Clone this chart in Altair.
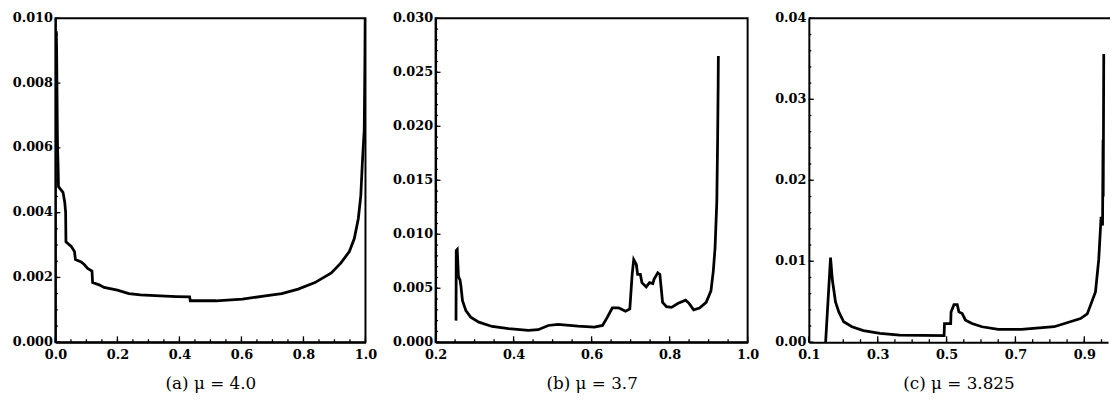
import altair as alt
import pandas as pd

# ---------------- data ----------------
a_x = [0.003, 0.004, 0.005, 0.006, 0.007, 0.0085, 0.010, 0.0245, 0.030, 0.033, 0.034, 0.051,
       0.0615, 0.0647, 0.083, 0.093, 0.104, 0.118, 0.120, 0.141, 0.157, 0.200, 0.237,
       0.274, 0.338, 0.390, 0.433, 0.435, 0.518, 0.603, 0.677, 0.730, 0.783, 0.837,
       0.890, 0.921, 0.948, 0.964, 0.977, 0.985, 0.990, 0.996, 0.998, 0.999]
a_y = [0.0096, 0.0090, 0.0080, 0.0068, 0.0060, 0.0055, 0.0048, 0.00463, 0.00433, 0.00402, 0.0031,
       0.00296, 0.0028, 0.00255, 0.00248, 0.0024, 0.00228, 0.0022, 0.00184, 0.00177,
       0.00169, 0.00161, 0.0015, 0.00146, 0.00143, 0.00141, 0.0014, 0.00128, 0.00128,
       0.00133, 0.00143, 0.0015, 0.00164, 0.00184, 0.00214, 0.00245, 0.0028, 0.0032,
       0.00382, 0.00453, 0.00555, 0.00656, 0.0085, 0.0100]

b_x = [0.2524, 0.2530, 0.2555, 0.2585, 0.2605, 0.2625, 0.2650, 0.269, 0.2777, 0.290,
       0.311, 0.345, 0.387, 0.438, 0.463, 0.489, 0.514, 0.565, 0.607, 0.628, 0.6405,
       0.653, 0.670, 0.687, 0.698, 0.704, 0.708, 0.7147, 0.718, 0.725, 0.729, 0.740,
       0.7486, 0.757, 0.760, 0.7696, 0.775, 0.782, 0.792, 0.805, 0.822, 0.841, 0.850,
       0.8616, 0.8767, 0.8937, 0.906, 0.912, 0.9165, 0.921, 0.9232, 0.9245, 0.925]
b_y = [0.0020, 0.0085, 0.0086, 0.0062, 0.0059, 0.0058, 0.0052, 0.00384, 0.00293, 0.00232,
       0.00186, 0.00146, 0.00125, 0.0011, 0.00116, 0.00155, 0.00165, 0.00149, 0.0014,
       0.00155, 0.00232, 0.00317, 0.00317, 0.00287, 0.00308, 0.00628, 0.00765, 0.0072,
       0.00628, 0.00628, 0.00552, 0.00512, 0.00552, 0.00543, 0.00583, 0.00643, 0.00628,
       0.00369, 0.00329, 0.00323, 0.0036, 0.0039, 0.0036, 0.0030, 0.00317, 0.00369,
       0.00476, 0.00659, 0.00872, 0.0130, 0.0191, 0.0240, 0.0265]

c_x = [0.1487, 0.163, 0.168, 0.1774, 0.187, 0.2012, 0.2253, 0.2586, 0.3065, 0.3638,
       0.4306, 0.4928, 0.4940, 0.512, 0.513, 0.5215, 0.531, 0.5358, 0.5454, 0.555,
       0.574, 0.6027, 0.6505, 0.717, 0.8127, 0.889, 0.9086, 0.9325, 0.942, 0.9488,
       0.9530, 0.9545, 0.9550, 0.9565]
c_y = [0.0, 0.01044, 0.0078, 0.00496, 0.00374, 0.00252, 0.00191, 0.00143, 0.0011, 0.00089,
       0.00085, 0.00082, 0.00231, 0.00231, 0.00374, 0.00463, 0.00463, 0.00374, 0.00353,
       0.00272, 0.00231, 0.00191, 0.00158, 0.00158, 0.00191, 0.00292, 0.0035, 0.0062,
       0.01023, 0.0155, 0.0144, 0.0250, 0.0180, 0.0356]

a_xticks = [0.0, 0.2, 0.4, 0.6, 0.8, 1.0]
a_yticks = [0.000, 0.002, 0.004, 0.006, 0.008, 0.010]
b_xticks = [0.2, 0.4, 0.6, 0.8, 1.0]
b_yticks = [0.000, 0.005, 0.010, 0.015, 0.020, 0.025, 0.030]
c_xticks = [0.1, 0.3, 0.5, 0.7, 0.9]
c_yticks = [0.00, 0.01, 0.02, 0.03, 0.04]

titles = ["(a) μ = 4.0", "(b) μ = 3.7", "(c) μ = 3.825"]

H = 328
FONT = "DejaVu Serif"


def minor(lo, hi, step):
    n = int(round((hi - lo) / step))
    return [round(lo + k * step, 6) for k in range(n + 1)]


def panel(xs, ys, xdom, ydom, xt, xfmt, xmin, yt, yfmt, ymin, title, W, full_box=True):
    df = pd.DataFrame({"x": xs, "y": ys, "i": list(range(len(xs)))})
    xs_ = alt.Scale(domain=xdom, nice=False, zero=False)
    ys_ = alt.Scale(domain=ydom, nice=False, zero=False)
    xaxis = alt.Axis(values=xt, format=xfmt, title=title, grid=False, ticks=False,
                     tickSize=0, labelFlush=False, labelPadding=7,
                     labelFont=FONT, labelFontSize=13, labelFontWeight="bold",
                     labelColor="black", domainColor="black", domainWidth=2,
                     titleFont=FONT, titleFontSize=17, titleFontWeight="normal",
                     titleColor="black", titlePadding=14)
    yaxis = alt.Axis(values=yt, format=yfmt, title=None, grid=False, ticks=False,
                     tickSize=0, labelFlush=False, labelPadding=3, labelOffset=-1,
                     labelFont=FONT, labelFontSize=13, labelFontWeight="bold",
                     labelColor="black", domainColor="black", domainWidth=2)
    X = alt.X("x:Q", scale=xs_, axis=xaxis, title=title)
    Y = alt.Y("y:Q", scale=ys_, axis=yaxis, title=None)
    line = alt.Chart(df).mark_line(color="black", strokeWidth=2.8, clip=True).encode(
        x=X, y=Y, order=alt.Order("i:Q"),
    )
    rule = dict(color="black", strokeWidth=1.3)
    xmaj = alt.Chart(pd.DataFrame({"x": xt})).mark_rule(**rule).encode(
        x=X, y=alt.value(H), y2=alt.value(H - 6))
    xmi = alt.Chart(pd.DataFrame({"x": xmin})).mark_rule(**rule).encode(
        x=X, y=alt.value(H), y2=alt.value(H - 3))
    ymaj = alt.Chart(pd.DataFrame({"y": yt})).mark_rule(**rule).encode(
        y=Y, x=alt.value(0), x2=alt.value(5))
    ymi = alt.Chart(pd.DataFrame({"y": ymin})).mark_rule(**rule).encode(
        y=Y, x=alt.value(0), x2=alt.value(2.5))
    layers = [line, xmaj, xmi, ymaj, ymi]
    if full_box:
        view = alt.ViewBackground(stroke="black", strokeWidth=2)
    else:
        view = alt.ViewBackground(stroke="transparent")
        top = alt.Chart(pd.DataFrame({"k": [0]})).mark_rule(color="black", strokeWidth=2).encode(
            x=alt.value(0), x2=alt.value(W + 2), y=alt.value(0))
        layers.append(top)
    return alt.layer(*layers).properties(width=W, height=H, view=view)


pa = panel(a_x, a_y, [0.0, 1.0], [0.0, 0.010], a_xticks, ".1f", minor(0.0, 1.0, 0.05),
           a_yticks, ".3f", minor(0.0, 0.010, 0.0005), titles[0], 314)
pb = panel(b_x, b_y, [0.2, 1.0], [0.0, 0.030], b_xticks, ".1f", minor(0.2, 1.0, 0.05),
           b_yticks, ".3f", minor(0.0, 0.030, 0.001), titles[1], 316)
pc = panel(c_x, c_y, [0.1, 0.969], [0.0, 0.040], c_xticks, ".1f", minor(0.1, 0.95, 0.05),
           c_yticks, ".2f", minor(0.0, 0.040, 0.002), titles[2], 303, full_box=False)

chart = alt.hconcat(pa, pb, pc, spacing=13).properties(
    padding={"left": 3, "top": 0, "right": 0, "bottom": 0},
    background="white",
)

chart.save("out.html", embed_options={"renderer": "svg", "actions": False})
